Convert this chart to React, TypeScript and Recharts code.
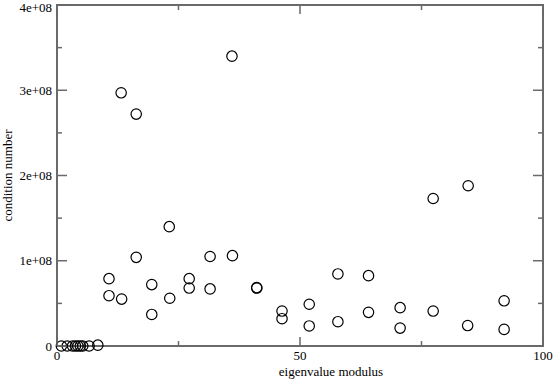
import React from "react";
import { ScatterChart, Scatter, XAxis, YAxis, ReferenceArea } from "recharts";

// eigenvalue modulus vs condition number
const eigenvalues = [
  0.9, 2.1, 3.2, 3.8, 4.3, 4.8, 5.3, 6.6, 8.4,
  10.7, 10.7, 13.2, 13.3, 16.3, 16.3, 19.5, 19.5, 23.1, 23.2,
  27.2, 27.2, 31.5, 31.5, 36.0, 36.1, 41.1, 41.1, 46.3, 46.3,
  51.9, 51.9, 57.8, 57.8, 64.1, 64.1, 70.6, 70.6, 77.4, 77.4,
  84.6, 84.5, 92.0, 92.0,
];
const conditionNumbers = [
  0, 0, 0, 0, 0, 0, 0, 0, 0.01e8,
  0.79e8, 0.59e8, 2.97e8, 0.55e8, 2.72e8, 1.04e8, 0.72e8, 0.37e8, 1.4e8, 0.56e8,
  0.79e8, 0.68e8, 1.05e8, 0.67e8, 3.4e8, 1.06e8, 0.68e8, 0.685e8, 0.41e8, 0.32e8,
  0.49e8, 0.235e8, 0.845e8, 0.285e8, 0.825e8, 0.395e8, 0.45e8, 0.21e8, 1.73e8, 0.41e8,
  1.88e8, 0.24e8, 0.53e8, 0.195e8,
];
const xTicks = [0, 25, 50, 75, 100];
const xTickLabels: Record<number, string> = { 0: "0", 50: "50", 100: "100" };
const yTicks = [0, 0.5e8, 1e8, 1.5e8, 2e8, 2.5e8, 3e8, 3.5e8, 4e8];
const yTickLabels: Record<number, string> = { 0: "0", 100000000: "1e+08", 200000000: "2e+08", 300000000: "3e+08", 400000000: "4e+08" };

const data = eigenvalues.map((x, i) => ({ x, y: conditionNumbers[i] }));

const W = 554;
const H = 379;
const margin = { top: 5, right: 11, bottom: 0, left: 0 };
const yAxisWidth = 57;
const xAxisHeight = 33;
const plotLeft = margin.left + yAxisWidth;
const plotRight = W - margin.right;
const plotTop = margin.top;
const plotBottom = H - margin.bottom - xAxisHeight;
const font = "'Liberation Serif', 'DejaVu Serif', serif";
const frame = "#6a6a6a";

const XTick = (props: any) => {
  const { x, y, payload } = props;
  const label = xTickLabels[payload.value];
  const len = label !== undefined ? 9 : 5;
  return (
    <g>
      <line x1={x} x2={x} y1={plotBottom} y2={plotBottom - len} stroke={frame} strokeWidth={1.5} />
      <line x1={x} x2={x} y1={plotTop} y2={plotTop + len} stroke={frame} strokeWidth={1.5} />
      {label !== undefined && (
        <text x={x} y={y + 14} textAnchor="middle" fontSize={13} fontFamily={font} fill="#000">
          {label}
        </text>
      )}
    </g>
  );
};

const YTick = (props: any) => {
  const { x, y, payload } = props;
  const label = yTickLabels[payload.value];
  const len = label !== undefined ? 10 : 5;
  // top label sits a bit lower so it is not clipped
  const shift = y < plotTop + 4 ? 2 : 0;
  return (
    <g>
      <line x1={plotLeft} x2={plotLeft + len} y1={y} y2={y} stroke={frame} strokeWidth={1.5} />
      <line x1={plotRight - len} x2={plotRight} y1={y} y2={y} stroke={frame} strokeWidth={1.5} />
      {label !== undefined && (
        <text x={x - 5} y={y + shift} dy="0.35em" textAnchor="end" fontSize={13} fontFamily={font} fill="#000">
          {label}
        </text>
      )}
    </g>
  );
};

const Ring = (props: any) => (
  <circle cx={props.cx} cy={props.cy} r={5.2} fill="none" stroke="#000" strokeWidth={1.2} />
);

const XLabel = (props: any) => {
  const vb = props.viewBox;
  return (
    <text x={vb.x + vb.width / 2 + 31} y={vb.y + vb.height - 3} textAnchor="middle" fontSize={13} fontFamily={font} fill="#000">
      eigenvalue modulus
    </text>
  );
};

const YLabel = (props: any) => {
  const vb = props.viewBox;
  const cx = vb.x + 12;
  const cy = vb.y + vb.height / 2;
  return (
    <text x={cx} y={cy} transform={`rotate(-90 ${cx} ${cy})`} textAnchor="middle" fontSize={13} fontFamily={font} fill="#000">
      condition number
    </text>
  );
};

export default function App() {
  return (
    <div style={{ position: "absolute", left: 0, top: 0, width: W, height: H, background: "#fff" }}>
      <ScatterChart width={W} height={H} margin={margin}>
        <XAxis
          type="number"
          dataKey="x"
          domain={[0, 100]}
          ticks={xTicks}
          height={xAxisHeight}
          tickSize={0}
          tickMargin={0}
          axisLine={false}
          tickLine={false}
          tick={<XTick />}
          interval={0}
          label={<XLabel />}
        />
        <YAxis
          type="number"
          dataKey="y"
          domain={[0, 4e8]}
          ticks={yTicks}
          width={yAxisWidth}
          tickSize={0}
          tickMargin={0}
          axisLine={false}
          tickLine={false}
          tick={<YTick />}
          interval={0}
          label={<YLabel />}
        />
        <ReferenceArea x1={0} x2={100} y1={0} y2={4e8} fill="none" stroke={frame} strokeWidth={2} />
        <Scatter data={data} shape={<Ring />} isAnimationActive={false} />
      </ScatterChart>
    </div>
  );
}
